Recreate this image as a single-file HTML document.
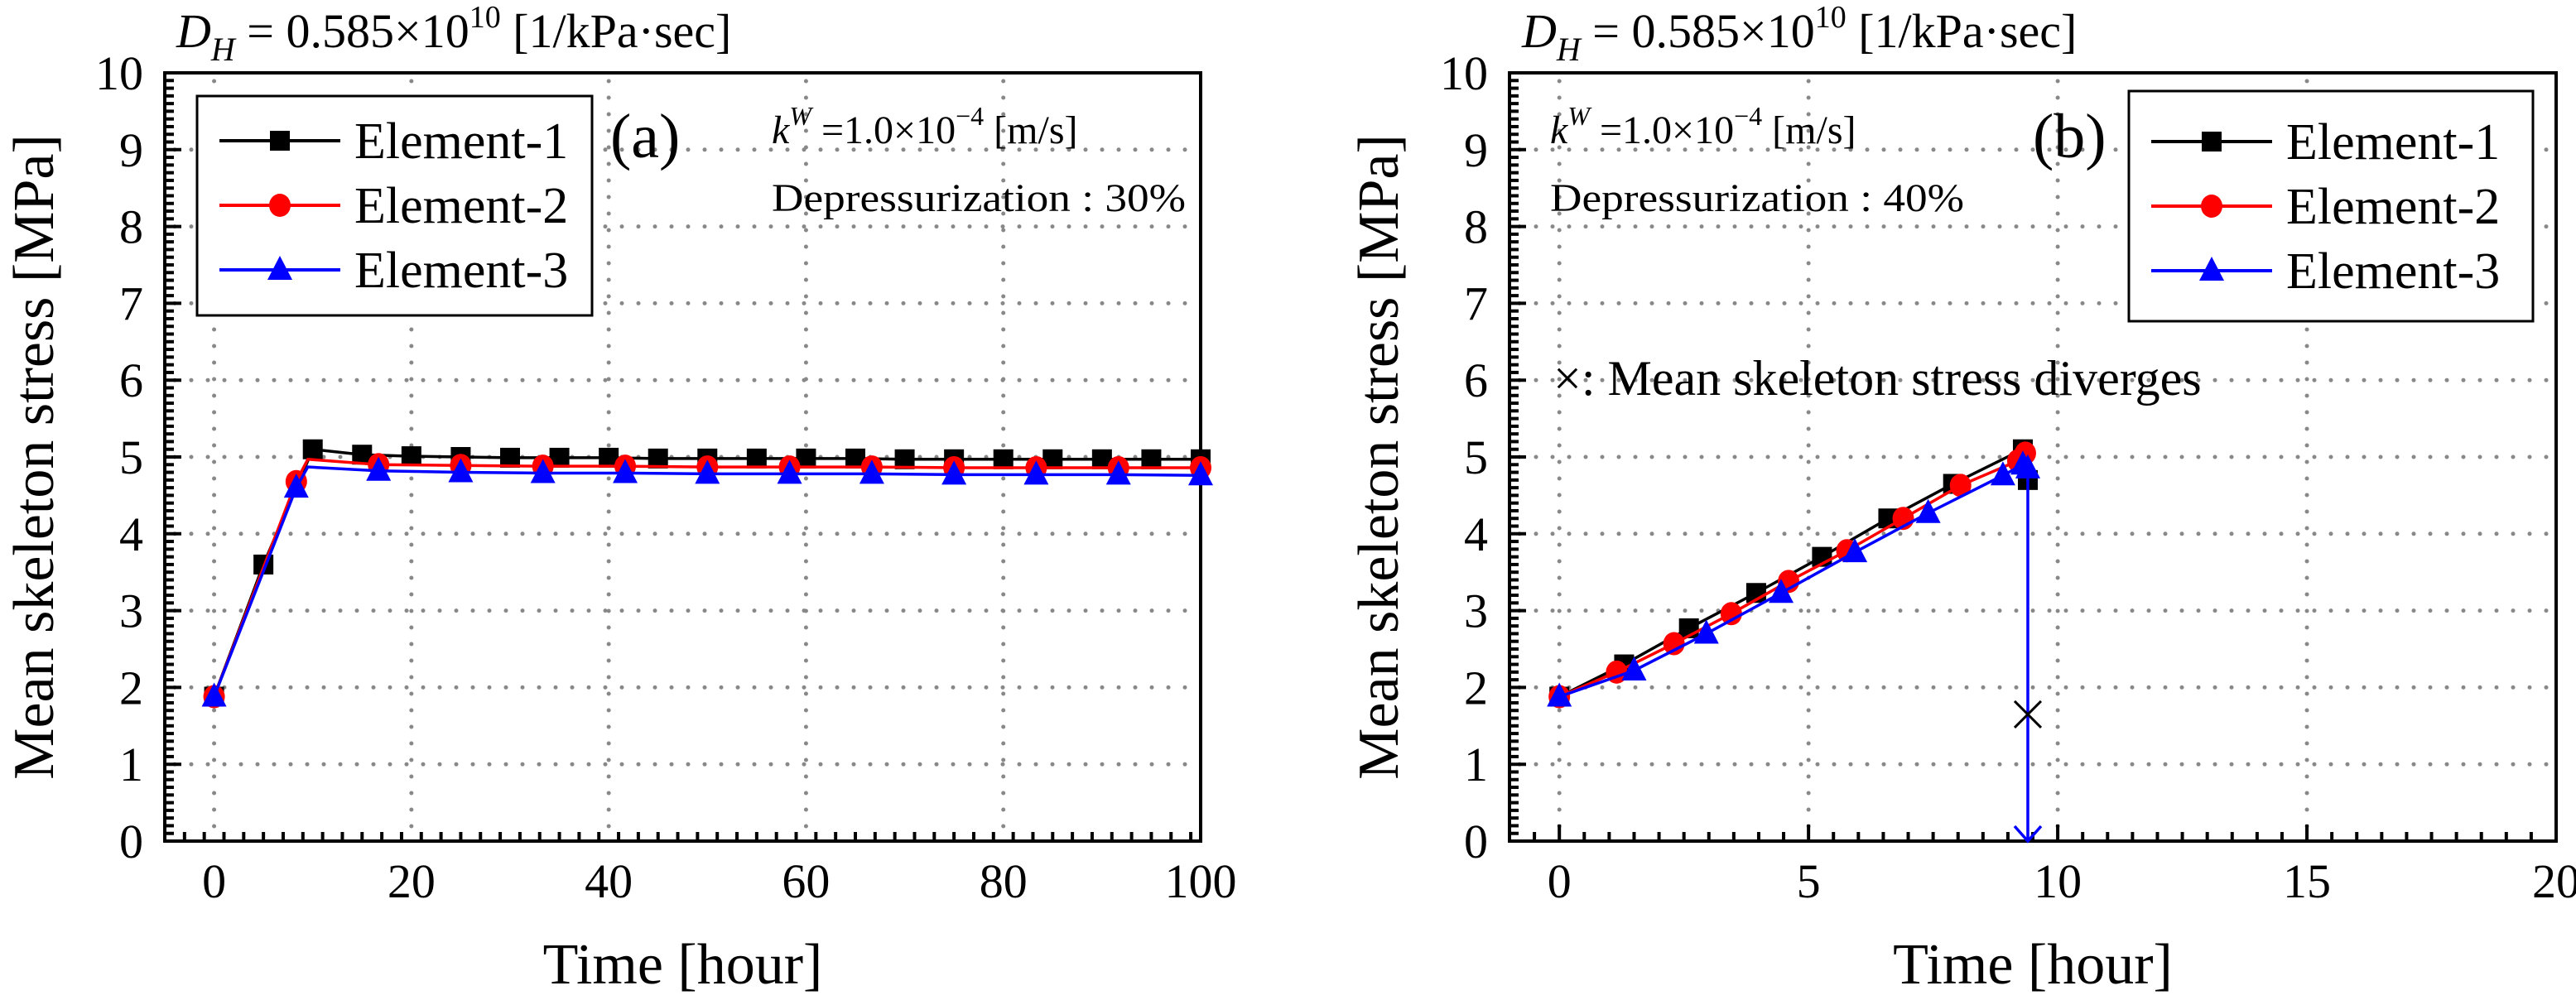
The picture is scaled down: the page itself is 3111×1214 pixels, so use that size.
<!DOCTYPE html>
<html><head><meta charset="utf-8"><style>
html,body{margin:0;padding:0;background:#fff;}
svg{display:block;font-family:"Liberation Serif",serif;}
svg text{font-family:"Liberation Serif",serif;}
</style></head><body>
<svg id="chart" width="3111" height="1214" viewBox="0 0 3111 1214" xmlns="http://www.w3.org/2000/svg" font-family="Liberation Serif, serif"></svg>
<script>
// ---- Panel (a) data ----
const aE1Time = [0,5,10,15,20,25,30,35,40,45,50,55,60,65,70,75,80,85,90,95,100];
const aE1Val  = [1.88,3.6,5.1,5.03,5.01,5.0,4.99,4.99,4.99,4.98,4.98,4.98,4.98,4.98,4.97,4.97,4.97,4.97,4.97,4.97,4.97];
const aE2Time = [0,8.33,9.5,16.67,25,33.33,41.67,50,58.33,66.67,75,83.33,91.67,100];
const aE2Val  = [1.88,4.68,4.97,4.90,4.89,4.88,4.88,4.87,4.87,4.87,4.86,4.86,4.86,4.86];
const aE3Time = [0,8.33,9.5,16.67,25,33.33,41.67,50,58.33,66.67,75,83.33,91.67,100];
const aE3Val  = [1.88,4.6,4.87,4.82,4.80,4.79,4.79,4.78,4.78,4.78,4.77,4.77,4.77,4.76];
const aNoMark = [2];
const aXTicks = [0,20,40,60,80,100];
// ---- Panel (b) data ----
const bE1Time = [0,1.3,2.6,3.95,5.27,6.6,7.9,9.3,9.4];
const bE1Val  = [1.88,2.3,2.77,3.23,3.7,4.2,4.65,5.1,4.7];
const bE2Time = [0,1.15,2.3,3.45,4.6,5.77,6.9,8.05,9.2,9.35];
const bE2Val  = [1.88,2.2,2.57,2.96,3.38,3.78,4.2,4.63,4.95,5.05];
const bE3Time = [0,1.5,2.95,4.45,5.93,7.4,8.9,9.3,9.4];
const bE3Val  = [1.88,2.22,2.7,3.23,3.76,4.27,4.76,4.9,4.85];
const bDivergeTime = [9.4];
const bDivergeVal = [1.65];
const bXTicks = [0,5,10,15,20];
const yTicks = [0,1,2,3,4,5,6,7,8,9,10];

const NS="http://www.w3.org/2000/svg";
const svg=document.getElementById('chart');
const FF='Liberation Serif, serif';
function mk(tag,attrs,parent){const e=document.createElementNS(NS,tag);for(const k in attrs)e.setAttribute(k,attrs[k]);if(tag==='text')e.setAttribute('font-family',FF);(parent||svg).appendChild(e);return e;}

const TOP=88,BOT=1016;
function yS(v){return BOT-(v/10)*(BOT-TOP);}

function panel(p){
  const g=mk('g',{});
  
  
  const xS=v=>p.x0+(v-p.xmin)/(p.xmax-p.xmin)*(p.x1-p.x0);
  const grid=mk('g',{stroke:'#888','stroke-width':5,'stroke-linecap':'round','stroke-dasharray':'0 20'},g);
  
  
  yTicks.forEach(v=>{if(v>0&&v<10)mk('line',{x1:p.x0+12,y1:yS(v),x2:p.x1,y2:yS(v)},grid);});
  p.xticks.forEach(v=>{const X=xS(v);if(X>p.x0+5&&X<p.x1-5)mk('line',{x1:X,y1:TOP+10,x2:X,y2:BOT},grid);});
  const tk=mk('g',{stroke:'#000','stroke-width':4},g);
  for(let i=0;i<=100;i++){const v=i/10;const L=(i%10===0)?20:11;mk('line',{x1:p.x0,y1:yS(v),x2:p.x0+L,y2:yS(v)},tk);}
  for(let v=p.xmin;v<=p.xmax+1e-6;v+=p.minor){
    const major=Math.abs(v/p.major-Math.round(v/p.major))<1e-6;
    mk('line',{x1:xS(v),y1:BOT,x2:xS(v),y2:BOT-(major?20:11)},tk);
  }
  const fr=mk('rect',{x:p.x0,y:TOP,width:p.x1-p.x0,height:BOT-TOP,fill:'none',stroke:'#000','stroke-width':4},g);
  
  
  yTicks.forEach(v=>{const t=mk('text',{x:p.x0-26,y:yS(v)+20,'font-size':58,'text-anchor':'end'},g);t.textContent=v;
    
    });
  p.xticks.forEach(v=>{const t=mk('text',{x:xS(v),y:1084,'font-size':58,'text-anchor':'middle'},g);t.textContent=v;
    
    });
  const yt=mk('text',{x:0,y:0,'font-size':70,'text-anchor':'middle',transform:`translate(${p.x0-135},552) rotate(-90)`},g);
  yt.textContent='Mean skeleton stress [MPa]';
  
  
  const xt=mk('text',{x:(p.x0+p.x1)/2,y:1188,'font-size':70,'text-anchor':'middle'},g);
  xt.textContent='Time [hour]';
  
  
  p.series.forEach(s=>{
    const sg=mk('g',{},g);
    
    
    const pts=s.t.map((t,i)=>xS(t)+','+yS(s.v[i])).join(' ');
    mk('polyline',{points:pts,fill:'none',stroke:s.color,'stroke-width':3.5},sg);
    s.t.forEach((t,i)=>{
      if(s.noMark&&s.noMark.indexOf(i)>=0)return;
      const m=marker(s.shape,xS(t),yS(s.v[i]),s.color,sg);
      
      
    });
  });
  return {g,xS};
}
function marker(shape,x,y,c,parent){
  if(shape==='sq')return mk('rect',{x:x-12,y:y-12,width:24,height:24,fill:c},parent);
  if(shape==='ci')return mk('ellipse',{cx:x,cy:y,rx:13,ry:14,fill:c},parent);
  return mk('polygon',{points:`${x},${y-17} ${x-15},${y+12} ${x+15},${y+12}`,fill:c},parent);
}
function legend(x,y,w,h,rows,parent){
  const lg=mk('g',{},parent);
  
  
  mk('rect',{x,y,width:w,height:h,fill:'#fff',stroke:'#000','stroke-width':3},lg);
  const names=['Element-1','Element-2','Element-3'],cols=['#000','#f00','#00f'],sh=['sq','ci','tr'];
  for(let i=0;i<3;i++){
    const e=mk('g',{},lg);
    
    
    const yy=y+rows[i];
    mk('line',{x1:x+27,y1:yy,x2:x+173,y2:yy,stroke:cols[i],'stroke-width':4},e);
    marker(sh[i],x+100,yy,cols[i],e);
    const t=mk('text',{x:x+190,y:yy+21,'font-size':62},e);t.textContent=names[i];
  }
}
function title(x,parent){
  const t=mk('text',{x:x,y:57,'font-size':58},parent);
  
  
  t.innerHTML='<tspan font-style="italic">D</tspan><tspan font-style="italic" font-size="40" dy="16">H</tspan><tspan dy="-16"> = 0.585×10</tspan><tspan font-size="38" dy="-24">10</tspan><tspan dy="24"> [1/kPa·sec]</tspan>';
}
function kText(x,parent,pct){
  const t=mk('text',{x:x,y:173,'font-size':48},parent);
  
  
  t.innerHTML='<tspan font-style="italic">k</tspan><tspan font-style="italic" font-size="32" dy="-22">W</tspan><tspan dy="22"> =1.0×10</tspan><tspan font-size="32" dy="-22">−4</tspan><tspan dy="22"> [m/s]</tspan>';
  const d=mk('text',{x:x,y:255,'font-size':48,textLength:500,lengthAdjust:'spacingAndGlyphs'},parent);
  d.textContent='Depressurization : '+pct;
  
  
}

const A=panel({name:'panel-a',x0:199,x1:1450,xmin:-5,xmax:100,minor:2,major:20,xticks:aXTicks,series:[
  {name:'series-element-1',t:aE1Time,v:aE1Val,color:'#000',shape:'sq'},
  {name:'series-element-2',t:aE2Time,v:aE2Val,color:'#f00',shape:'ci',noMark:aNoMark},
  {name:'series-element-3',t:aE3Time,v:aE3Val,color:'#00f',shape:'tr',noMark:aNoMark}]});
legend(238,116,477,265,[54,132,210],A.g);
title(213,A.g);
kText(932,A.g,'30%');
const la=mk('text',{x:737,y:190,'font-size':76},A.g);la.textContent='(a)';



const B=panel({name:'panel-b',x0:1823,x1:3087,xmin:-1,xmax:20,minor:0.5,major:5,xticks:bXTicks,series:[
  {name:'series-element-1',t:bE1Time,v:bE1Val,color:'#000',shape:'sq'},
  {name:'series-element-2',t:bE2Time,v:bE2Val,color:'#f00',shape:'ci'},
  {name:'series-element-3',t:bE3Time,v:bE3Val,color:'#00f',shape:'tr'}]});
const dg=mk('g',{},B.g);


const dx=B.xS(bE3Time[bE3Time.length-1]);
mk('line',{x1:dx,y1:yS(bE3Val[bE3Val.length-1]),x2:dx,y2:BOT,stroke:'#00f','stroke-width':3.5},dg);
mk('polyline',{points:`${dx-16},${BOT-18} ${dx},${BOT} ${dx+16},${BOT-18}`,fill:'none',stroke:'#00f','stroke-width':3.5},dg);
const cx=B.xS(bDivergeTime[0]),cy=yS(bDivergeVal[0]);
const xm=mk('path',{d:`M${cx-16},${cy-16}L${cx+16},${cy+16}M${cx-16},${cy+16}L${cx+16},${cy-16}`,stroke:'#000','stroke-width':3,fill:'none'},B.g);


legend(2571,110,488,278,[61,139,217],B.g);
title(1838,B.g);
kText(1872,B.g,'40%');
const lb=mk('text',{x:2455,y:190,'font-size':76},B.g);lb.textContent='(b)';


const note=mk('text',{x:1876,y:477,'font-size':60},B.g);note.textContent='×: Mean skeleton stress diverges';


</script>
</body></html>
